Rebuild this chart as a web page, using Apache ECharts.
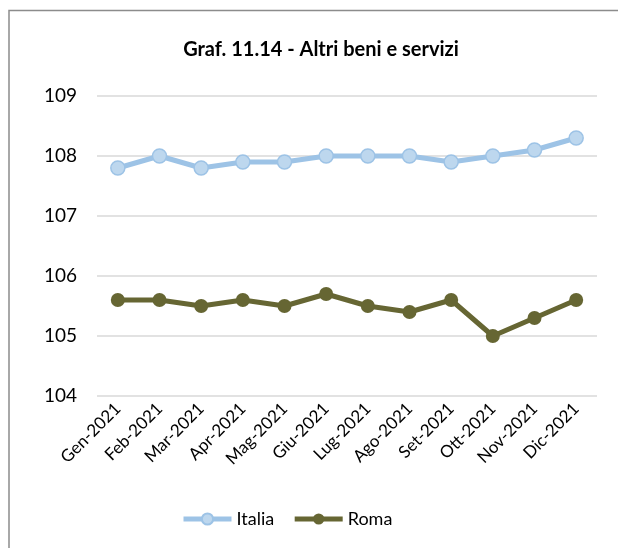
<!DOCTYPE html>
<html lang="it">
<head>
    <meta charset="UTF-8">
    <title>Graf. 11.14 - Altri beni e servizi</title>
    <script type="text/javascript" src="https://cdn.jsdelivr.net/npm/echarts@6/dist/echarts.min.js"></script>
    <style>
        body { margin: 0; background: #fff; }
    </style>
</head>
<body>
<div id="main" style="width: 618px;height:548px;"></div>
<script>
    // mesi
    var mesi = ['Gen-2021', 'Feb-2021', 'Mar-2021', 'Apr-2021', 'Mag-2021', 'Giu-2021',
        'Lug-2021', 'Ago-2021', 'Set-2021', 'Ott-2021', 'Nov-2021', 'Dic-2021'];
    // indici
    var italia = [107.8, 108.0, 107.8, 107.9, 107.9, 108.0, 108.0, 108.0, 107.9, 108.0, 108.1, 108.3];
    var roma = [105.6, 105.6, 105.5, 105.6, 105.5, 105.7, 105.5, 105.4, 105.6, 105.0, 105.3, 105.6];

    var font = 'Lato, "Open Sans", sans-serif';

    var option = {
        animation: false,
        title: {
            text: 'Graf. 11.14 - Altri beni e servizi',
            left: 316,
            textAlign: 'center',
            top: 35,
            textStyle: { fontFamily: font, fontSize: 20, fontWeight: 'bold', color: '#000' }
        },
        legend: {
            bottom: 15,
            left: 176,
            itemWidth: 48,
            itemHeight: 14,
            itemGap: 18,
            textStyle: { fontFamily: font, fontSize: 18, color: '#000' },
            lineStyle: { width: 5 },
            data: ['Italia', 'Roma']
        },
        grid: {
            left: 97,
            right: 21,
            top: 96,
            bottom: 152
        },
        xAxis: {
            type: 'category',
            data: mesi,
            axisTick: { show: false },
            axisLine: { show: false },
            axisLabel: {
                rotate: 45,
                margin: 10,
                fontFamily: font,
                fontSize: 17,
                color: '#000'
            }
        },
        yAxis: {
            type: 'value',
            min: 104,
            max: 109,
            interval: 1,
            axisLabel: { margin: 20, fontFamily: font, fontSize: 19, color: '#000' },
            splitLine: { lineStyle: { color: '#d9d9d9', width: 1.5 } }
        },
        series: [
            {
                name: 'Italia',
                type: 'line',
                data: italia,
                symbol: 'circle',
                symbolSize: 14,
                lineStyle: { color: '#9dc3e6', width: 5 },
                itemStyle: { color: '#bdd7ee', borderColor: '#9dc3e6', borderWidth: 1.5 }
            },
            {
                name: 'Roma',
                type: 'line',
                data: roma,
                symbol: 'circle',
                symbolSize: 14,
                lineStyle: { color: '#666633', width: 5 },
                itemStyle: { color: '#666633' }
            }
        ],
        graphic: [
            {
                type: 'polyline',
                shape: { points: [[9, 548], [9, 10.5], [618, 10.5]] },
                style: { stroke: '#8c8c8c', lineWidth: 1.5, fill: null }
            }
        ]
    };

    var myChart = echarts.init(document.getElementById('main'));
    myChart.setOption(option);
</script>
</body>
</html>
